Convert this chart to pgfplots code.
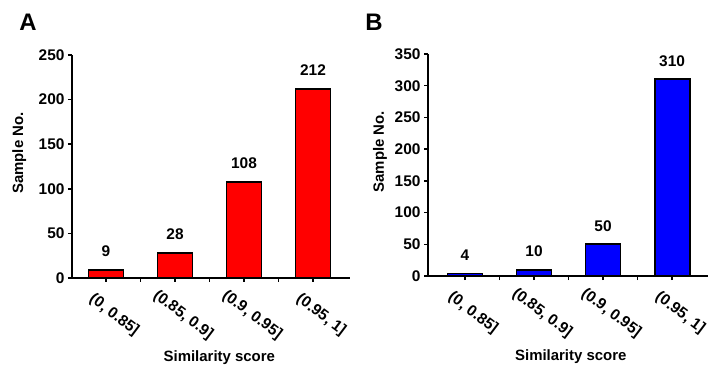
\documentclass[border=0pt]{standalone}
\usepackage{fontspec}
\setmainfont{Liberation Sans}
\usepackage{pgfplots}
\pgfplotsset{compat=1.18}
\begin{document}
\begin{tikzpicture}
\useasboundingbox (0,0) rectangle (719bp,372bp);
\pgfplotsset{
 panel/.style={
  scale only axis,
  axis x line=bottom, axis y line=left,
  axis line style={-, line width=1.6bp},
  ymin=0,
  ybar, bar width=35bp,
  xtick={0,1,2,3},
  xticklabels={{(0, 0.85]},{(0.85, 0.9]},{(0.9, 0.95]},{(0.95, 1]}},
  minor xtick={0.5,1.5,2.5},
  tick align=outside,
  major tick length=4bp, minor tick length=4bp,
  every tick/.style={line width=1.5bp, black},
  ytick distance=50,
  /pgf/number format/assume math mode=true,
  every tick label/.append style={font=\fontsize{15.5}{18}\selectfont\bfseries},
  xticklabel style={xshift=8bp, yshift=-33bp, rotate=-37, anchor=center},
  label style={font=\fontsize{15}{18}\selectfont\bfseries},
  ylabel={Sample No.},
  xlabel={Similarity score},
  nodes near coords,
  nodes near coords style={font=\fontsize{15.5}{18}\selectfont\bfseries, anchor=south, inner sep=0pt, yshift=12bp},
 }
}
\node[font=\fontsize{24}{28}\selectfont\bfseries] at (28bp,350bp) {A};
\node[font=\fontsize{24}{28}\selectfont\bfseries] at (374bp,350bp) {B};
\begin{axis}[panel,
  at={(72bp,94bp)}, anchor=south west,
  width=278bp, height=223bp,
  xmin=-0.493, xmax=3.536, ymax=250,
  ylabel style={at={(axis description cs:-0.19,0.56)}, anchor=center},
  xlabel style={at={(axis description cs:0.53,-0.355)}, anchor=center},
]
\addplot[fill=red, draw=black, line width=1.8bp] coordinates {(0,9) (1,28) (2,108) (3,212)};
\end{axis}
\begin{axis}[panel,
  at={(428bp,96bp)}, anchor=south west,
  width=280bp, height=222bp,
  xmin=-0.536, xmax=3.52, ymax=350,
  ylabel style={at={(axis description cs:-0.171,0.56)}, anchor=center},
  xlabel style={at={(axis description cs:0.51,-0.365)}, anchor=center},
]
\addplot[fill=blue, draw=black, line width=1.8bp] coordinates {(0,4) (1,10) (2,50) (3,310)};
\end{axis}
\end{tikzpicture}
\end{document}
